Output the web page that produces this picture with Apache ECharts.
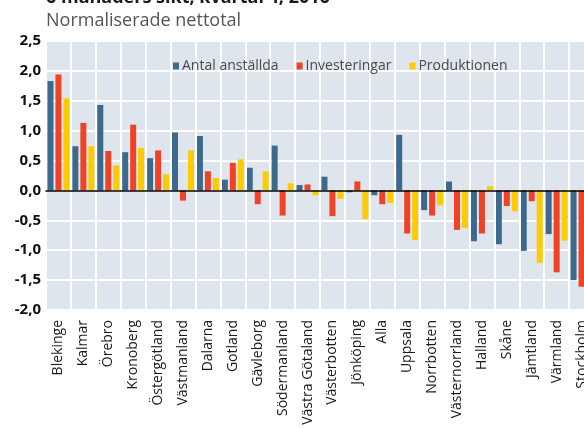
<!DOCTYPE html>
<html>
<head>
<meta charset="utf-8">
<script src="https://cdn.jsdelivr.net/npm/echarts@6/dist/echarts.min.js"></script>
<style>
html,body{margin:0;padding:0;background:#fff;overflow:hidden;}
#c{width:594px;height:428px;}
</style>
</head>
<body>
<div id="c"></div>
<script>
const categories = ["Blekinge","Kalmar","Örebro","Kronoberg","Östergötland","Västmanland","Dalarna","Gotland","Gävleborg","Södermanland","Västra Götaland","Västerbotten","Jönköping","Alla","Uppsala","Norrbotten","Västernorrland","Halland","Skåne","Jämtland","Värmland","Stockholm"];
const antalAnstallda = [1.83, 0.74, 1.43, 0.64, 0.54, 0.97, 0.91, 0.18, 0.38, 0.75, 0.09, 0.23, -0.03, -0.08, 0.93, -0.33, 0.15, -0.85, -0.90, -1.01, -0.73, -1.50];
const investeringar = [1.94, 1.13, 0.66, 1.10, 0.67, -0.17, 0.32, 0.46, -0.23, -0.42, 0.10, -0.43, 0.15, -0.23, -0.72, -0.42, -0.66, -0.72, -0.26, -0.18, -1.37, -1.61];
const produktionen = [1.54, 0.74, 0.42, 0.71, 0.27, 0.67, 0.21, 0.52, 0.32, 0.12, -0.08, -0.14, -0.48, -0.21, -0.83, -0.25, -0.63, 0.07, -0.35, -1.21, -0.84, -1.00];
const seriesNames = ["Antal anställda","Investeringar","Produktionen"];
const colors = ["#3c6a8d","#f04326","#fecb00"];
const titleText = "6 månaders sikt, kvartal 4, 2016";
const subtitleText = "Normaliserade nettotal";

const FONT = '"Open Sans", "Noto Sans", sans-serif';
const chart = echarts.init(document.getElementById('c'), null, {renderer:'canvas', width:594, height:428});
const mk = (name, data, color) => ({
  name, type:'bar', data, barWidth:6, barGap:'33%',
  itemStyle:{color}
});
chart.setOption({
  animation:false,
  color: colors,
  graphic:[
    {type:'text', x:46, y:7, z:100, style:{text:titleText, font:'bold 18px '+FONT, fill:'#1a1a1a', verticalAlign:'bottom'}},
    {type:'text', left:46, top:12, style:{text:subtitleText, font:'18px '+FONT, fill:'#555'}}
  ],
  legend:{
    data: seriesNames, top:54, left:168, z:20, icon:'rect', itemWidth:6, itemHeight:7, itemGap:18,
    textStyle:{fontFamily:FONT, fontSize:14, color:'#4a4a4a', padding:[0,0,0,-2]}
  },
  grid:{left:46, top:41, right:0, bottom:118, show:true, backgroundColor:'#dfe5ed', borderWidth:0, containLabel:false},
  xAxis:{
    type:'category', data:categories, z:10,
    axisLine:{onZero:true, lineStyle:{color:'#000', width:1.5}},
    axisTick:{show:false},
    splitLine:{show:true, lineStyle:{color:'#ffffff', width:2}},
    axisLabel:{rotate:90, interval:0, margin:10, fontFamily:FONT, fontSize:14, color:'#1a1a1a'}
  },
  yAxis:{
    type:'value', min:-2, max:2.5, interval:0.5,
    axisLine:{show:false}, axisTick:{show:false},
    splitLine:{lineStyle:{color:'#ffffff', width:2}},
    axisLabel:{margin:5, fontFamily:FONT, fontSize:15, fontWeight:'bold', color:'#111',
      formatter: v => v.toFixed(1).replace('.', ',')}
  },
  series:[
    mk(seriesNames[0], antalAnstallda, colors[0]),
    mk(seriesNames[1], investeringar, colors[1]),
    mk(seriesNames[2], produktionen, colors[2])
  ]
});
</script>
</body>
</html>
